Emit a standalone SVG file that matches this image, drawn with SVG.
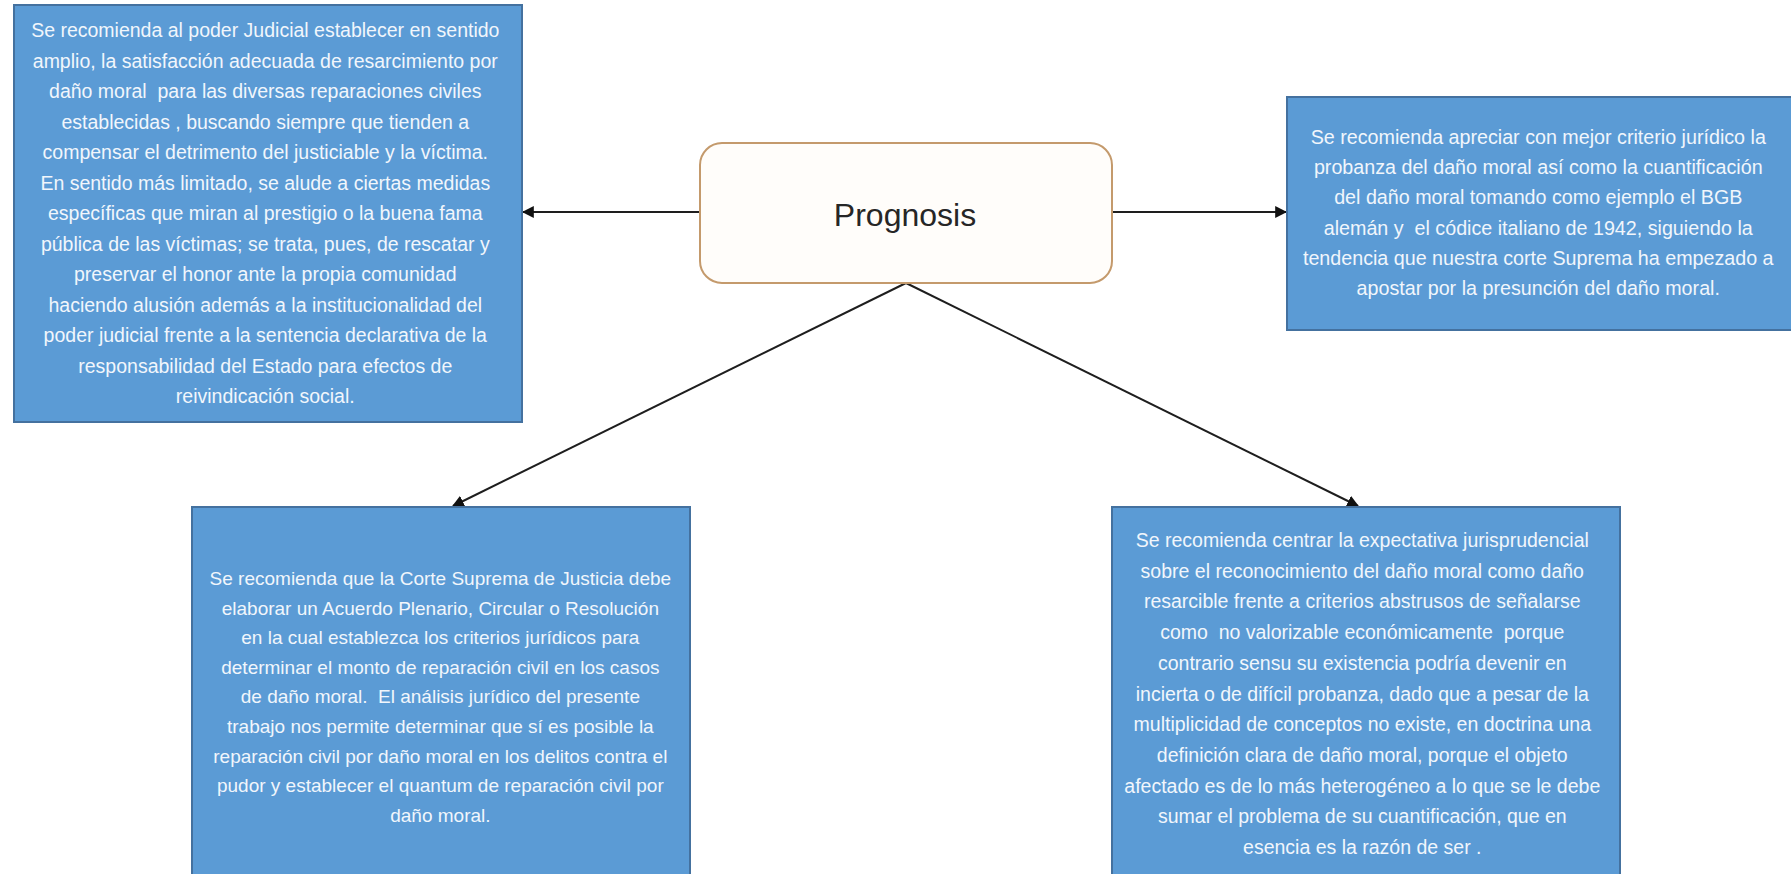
<svg xmlns="http://www.w3.org/2000/svg" width="1791" height="874" viewBox="0 0 1791 874">
<style>
.box{fill:#5b9bd5;stroke:#44719f;stroke-width:2}
.t{font-family:"Liberation Sans",Arial,sans-serif;fill:#f1f6fc;text-anchor:middle;dominant-baseline:central;white-space:pre}
.c{stroke:#1e1e1e;stroke-width:2;fill:none;marker-end:url(#ah)}
</style>
<defs>
<marker id="ah" viewBox="0 0 10 10" refX="9" refY="5" markerWidth="6" markerHeight="6" orient="auto" markerUnits="strokeWidth">
<path d="M0,0 L10,5 L0,10 z" fill="#111"/>
</marker>
</defs>
<rect width="1791" height="874" fill="#ffffff"/>

<g id="connectors">
<line class="c" x1="700" y1="212" x2="523" y2="212"/>
<line class="c" x1="1112" y1="212" x2="1286" y2="212"/>
<line class="c" x1="906" y1="283" x2="453" y2="506"/>
<line class="c" x1="906" y1="283" x2="1358" y2="506"/>
</g>

<g id="center">
<rect x="700" y="143" width="412" height="140" rx="22" ry="22" fill="#fffdfa" stroke="#c49a6c" stroke-width="2"/>
<text x="905" y="215" style="font-family:'Liberation Sans',Arial,sans-serif;font-size:32px;fill:#262626;text-anchor:middle;dominant-baseline:central">Prognosis</text>
</g>

<g id="node-left">
<rect class="box" x="14" y="5" width="508" height="417"/>
<text class="t" style="font-size:19.5px">
<tspan x="268" y="30">Se recomienda al poder Judicial establecer en sentido</tspan>
<tspan x="268" y="60.5">amplio, la satisfacción adecuada de resarcimiento por</tspan>
<tspan x="268" y="91">daño moral  para las diversas reparaciones civiles</tspan>
<tspan x="268" y="121.5">establecidas , buscando siempre que tienden a</tspan>
<tspan x="268" y="152">compensar el detrimento del justiciable y la víctima.</tspan>
<tspan x="268" y="182.5">En sentido más limitado, se alude a ciertas medidas</tspan>
<tspan x="268" y="213">específicas que miran al prestigio o la buena fama</tspan>
<tspan x="268" y="243.5">pública de las víctimas; se trata, pues, de rescatar y</tspan>
<tspan x="268" y="274">preservar el honor ante la propia comunidad</tspan>
<tspan x="268" y="304.5">haciendo alusión además a la institucionalidad del</tspan>
<tspan x="268" y="335">poder judicial frente a la sentencia declarativa de la</tspan>
<tspan x="268" y="365.5">responsabilidad del Estado para efectos de</tspan>
<tspan x="268" y="396">reivindicación social.</tspan>
</text>
</g>

<g id="node-right">
<rect class="box" x="1287" y="97" width="510" height="233"/>
<text class="t" style="font-size:19.7px">
<tspan x="1541" y="137">Se recomienda apreciar con mejor criterio jurídico la</tspan>
<tspan x="1541" y="167.2">probanza del daño moral así como la cuantificación</tspan>
<tspan x="1541" y="197.4">del daño moral tomando como ejemplo el BGB</tspan>
<tspan x="1541" y="227.6">alemán y  el códice italiano de 1942, siguiendo la</tspan>
<tspan x="1541" y="257.8">tendencia que nuestra corte Suprema ha empezado a</tspan>
<tspan x="1541" y="288">apostar por la presunción del daño moral.</tspan>
</text>
</g>

<g id="node-bottom-left">
<rect class="box" x="192" y="507" width="498" height="380"/>
<text class="t" style="font-size:19px">
<tspan x="443" y="578">Se recomienda que la Corte Suprema de Justicia debe</tspan>
<tspan x="443" y="607.6">elaborar un Acuerdo Plenario, Circular o Resolución</tspan>
<tspan x="443" y="637.2">en la cual establezca los criterios jurídicos para</tspan>
<tspan x="443" y="666.8">determinar el monto de reparación civil en los casos</tspan>
<tspan x="443" y="696.4">de daño moral.  El análisis jurídico del presente</tspan>
<tspan x="443" y="726">trabajo nos permite determinar que sí es posible la</tspan>
<tspan x="443" y="755.6">reparación civil por daño moral en los delitos contra el</tspan>
<tspan x="443" y="785.2">pudor y establecer el quantum de reparación civil por</tspan>
<tspan x="443" y="814.8">daño moral.</tspan>
</text>
</g>

<g id="node-bottom-right">
<rect class="box" x="1112" y="507" width="508" height="380"/>
<text class="t" style="font-size:19.5px">
<tspan x="1365" y="540">Se recomienda centrar la expectativa jurisprudencial</tspan>
<tspan x="1365" y="570.7">sobre el reconocimiento del daño moral como daño</tspan>
<tspan x="1365" y="601.4">resarcible frente a criterios abstrusos de señalarse</tspan>
<tspan x="1365" y="632.1">como  no valorizable económicamente  porque</tspan>
<tspan x="1365" y="662.8">contrario sensu su existencia podría devenir en</tspan>
<tspan x="1365" y="693.5">incierta o de difícil probanza, dado que a pesar de la</tspan>
<tspan x="1365" y="724.2">multiplicidad de conceptos no existe, en doctrina una</tspan>
<tspan x="1365" y="754.9">definición clara de daño moral, porque el objeto</tspan>
<tspan x="1365" y="785.6">afectado es de lo más heterogéneo a lo que se le debe</tspan>
<tspan x="1365" y="816.3">sumar el problema de su cuantificación, que en</tspan>
<tspan x="1365" y="847">esencia es la razón de ser .</tspan>
</text>
</g>
</svg>
